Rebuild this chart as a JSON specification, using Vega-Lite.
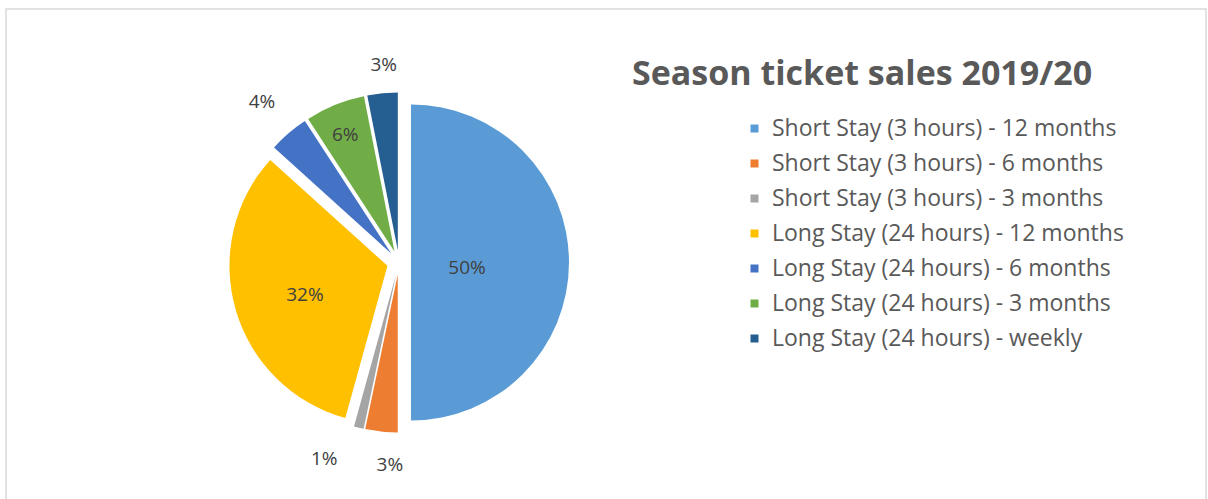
{
  "$schema": "https://vega.github.io/schema/vega-lite/v6.json",
  "width": 1200,
  "height": 495,
  "autosize": {"type": "none"},
  "padding": {"left": 6, "top": 9, "right": 2, "bottom": 0},
  "title": {
    "text": "Season ticket sales 2019/20",
    "anchor": "start",
    "frame": "group",
    "offset": 0,
    "dx": 626,
    "dy": 110,
    "baseline": "alphabetic",
    "fontSize": 34,
    "font": "Open Sans",
    "fontWeight": "bold",
    "color": "#595959"
  },
  "data": {
    "values": [
      {"type": "Short Stay (3 hours) - 12 months", "value": 50.0},
      {"type": "Short Stay (3 hours) - 6 months", "value": 3.3},
      {"type": "Short Stay (3 hours) - 3 months", "value": 1.0},
      {"type": "Long Stay (24 hours) - 12 months", "value": 32.4},
      {"type": "Long Stay (24 hours) - 6 months", "value": 4.1},
      {"type": "Long Stay (24 hours) - 3 months", "value": 6.1},
      {"type": "Long Stay (24 hours) - weekly", "value": 3.1}
    ]
  },
  "transform": [
    {"window": [{"op": "sum", "field": "value", "as": "cum"}], "frame": [null, 0]},
    {"calculate": "datum.cum - datum.value", "as": "start"},
    {"calculate": "(datum.start + datum.cum) / 2", "as": "midp"},
    {"calculate": "12 * sin(datum.midp / 100 * 2 * PI)", "as": "dx"},
    {"calculate": "12 * cos(datum.midp / 100 * 2 * PI)", "as": "dy"},
    {"calculate": "round(datum.value) + '%'", "as": "label"}
  ],
  "encoding": {
    "x": {"field": "dx", "type": "quantitative", "scale": {"domain": [-158, 158], "range": [235, 551]}, "axis": null},
    "y": {"field": "dy", "type": "quantitative", "scale": {"domain": [-158, 158], "range": [411.5, 95.5]}, "axis": null}
  },
  "layer": [
    {
      "mark": {"type": "arc", "radius": 158},
      "encoding": {
        "theta": {"field": "start", "type": "quantitative", "scale": {"domain": [0, 100]}},
        "theta2": {"field": "cum"},
        "color": {
          "field": "type",
          "type": "nominal",
          "scale": {
            "domain": [
              "Short Stay (3 hours) - 12 months",
              "Short Stay (3 hours) - 6 months",
              "Short Stay (3 hours) - 3 months",
              "Long Stay (24 hours) - 12 months",
              "Long Stay (24 hours) - 6 months",
              "Long Stay (24 hours) - 3 months",
              "Long Stay (24 hours) - weekly"
            ],
            "range": ["#5B9BD5", "#ED7D31", "#A5A5A5", "#FFC000", "#4472C4", "#70AD47", "#255E91"]
          },
          "legend": {
            "orient": "none",
            "legendX": 737,
            "legendY": 108,
            "title": null,
            "symbolType": "square",
            "symbolSize": 64,
            "symbolStrokeWidth": 0,
            "labelFontSize": 23,
            "labelFont": "Open Sans",
            "labelColor": "#595959",
            "rowPadding": 11,
            "labelOffset": 6,
            "labelLimit": 500
          }
        }
      }
    },
    {
      "transform": [{"filter": "datum.value >= 5"}],
      "mark": {"type": "text", "fontSize": 19, "font": "Open Sans", "fill": "#404040", "align": "center", "baseline": "middle", "dy": 5},
      "encoding": {
        "theta": {"field": "midp", "type": "quantitative", "stack": null},
        "radius": {"field": "value", "type": "quantitative", "scale": {"type": "linear", "domain": [6, 50], "range": [131, 56], "zero": false}},
        "text": {"field": "label"}
      }
    },
    {
      "transform": [{"filter": "datum.value < 5 && datum.value >= 3.5"}],
      "mark": {"type": "text", "radius": 199, "fontSize": 19, "font": "Open Sans", "fill": "#404040", "align": "center", "baseline": "middle"},
      "encoding": {
        "theta": {"field": "midp", "type": "quantitative", "stack": null},
        "text": {"field": "label"}
      }
    },
    {
      "transform": [{"filter": "datum.value < 3.2 && datum.value >= 2"}],
      "mark": {"type": "text", "radius": 186, "fontSize": 19, "font": "Open Sans", "fill": "#404040", "align": "center", "baseline": "middle", "dx": 4},
      "encoding": {
        "theta": {"field": "midp", "type": "quantitative", "stack": null},
        "text": {"field": "label"}
      }
    },
    {
      "transform": [{"filter": "datum.value >= 3.2 && datum.value < 3.5"}],
      "mark": {"type": "text", "radius": 192, "fontSize": 19, "font": "Open Sans", "fill": "#404040", "align": "center", "baseline": "middle", "dx": 12},
      "encoding": {
        "theta": {"field": "midp", "type": "quantitative", "stack": null},
        "text": {"field": "label"}
      }
    },
    {
      "transform": [{"filter": "datum.value < 2"}],
      "mark": {"type": "text", "radius": 190, "fontSize": 19, "font": "Open Sans", "fill": "#404040", "align": "center", "baseline": "middle", "dx": -27},
      "encoding": {
        "theta": {"field": "midp", "type": "quantitative", "stack": null},
        "text": {"field": "label"}
      }
    }
  ],
  "config": {
    "view": {"stroke": "#d9d9d9", "strokeWidth": 1.5},
    "background": "white"
  }
}
